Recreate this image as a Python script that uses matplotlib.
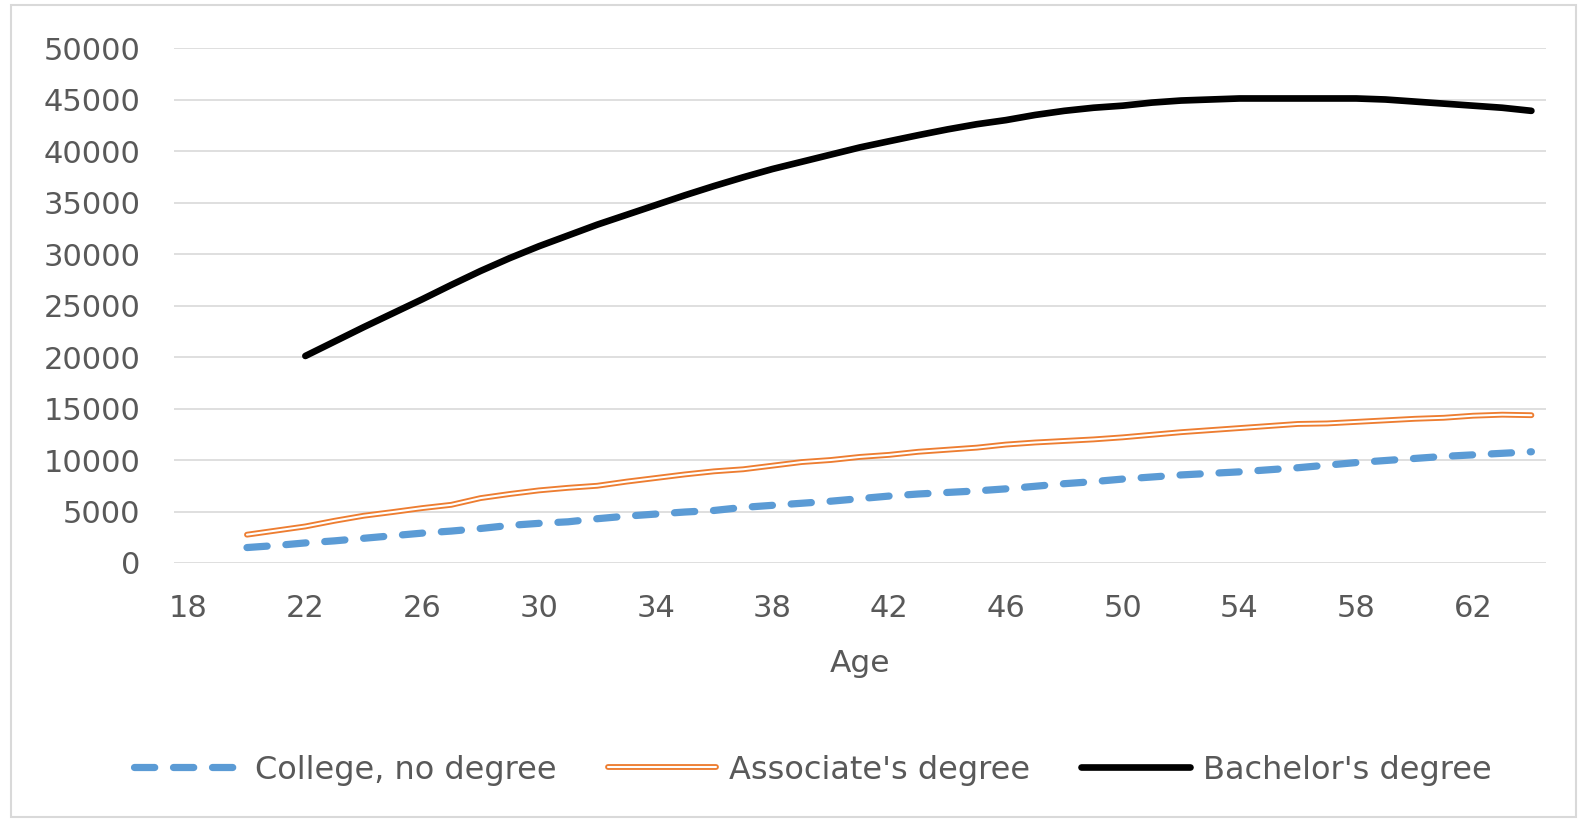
import matplotlib
matplotlib.use('Agg')
import matplotlib.pyplot as plt
import matplotlib.patheffects as pe
from matplotlib.patches import Rectangle

# ages on the category axis
ages = list(range(18, 65))

# one value per age
college_ages = list(range(20, 65))
college = [1500, 1700, 1950, 2150, 2400, 2650, 2900, 3100, 3350, 3650,
           3850, 4000, 4300, 4550, 4750, 4950, 5100, 5400, 5600, 5800,
           6000, 6250, 6500, 6700, 6850, 7000, 7200, 7450, 7700, 7900,
           8150, 8350, 8550, 8700, 8850, 9050, 9250, 9500, 9750, 9950,
           10150, 10350, 10500, 10650, 10800]

assoc_ages = list(range(20, 65))
associate = [2750, 3150, 3550, 4100, 4590, 4950, 5330, 5650, 6300, 6700,
             7050, 7300, 7500, 7900, 8250, 8600, 8900, 9100, 9450, 9800,
             10000, 10300, 10500, 10800, 11000, 11200, 11500, 11700, 11850, 12000,
             12200, 12450, 12700, 12900, 13100, 13300, 13500, 13550, 13700, 13850,
             14000, 14100, 14300, 14400, 14350]

bach_ages = list(range(22, 65))
bachelor = [20100, 21500, 22900, 24250, 25600, 27000, 28350, 29600, 30750, 31800,
            32850, 33800, 34750, 35700, 36600, 37450, 38250, 38950, 39650, 40350,
            40950, 41540, 42100, 42600, 43000, 43500, 43900, 44200, 44400, 44700,
            44900, 45000, 45100, 45100, 45100, 45100, 45100, 45000, 44800, 44600,
            44400, 44200, 43900]

series_names = ['College, no degree', "Associate's degree", "Bachelor's degree"]
x_ticks = ages[::4]
y_ticks = list(range(0, 50001, 5000))

text_col = '#595959'
grid_col = '#d9d9d9'

fig = plt.figure(figsize=(15.87, 8.22), dpi=100)
ax = fig.add_axes([174 / 1587, 1 - 563 / 822, (1546 - 174) / 1587, (563 - 48) / 822])

# outer chart border
fig.patches.append(Rectangle((11 / 1587, 5 / 822), 1565 / 1587, 812 / 822,
                             transform=fig.transFigure, fill=False,
                             edgecolor=grid_col, lw=1.5))

ax.plot(college_ages, college, color='#5b9bd5', lw=5.2, linestyle=(0, (2.8, 2.6)),
        dash_capstyle='round', solid_capstyle='round', label=series_names[0], zorder=3)
ax.plot(assoc_ages, associate, color='white', lw=1.5, solid_capstyle='round',
        label=series_names[1], zorder=3,
        path_effects=[pe.Stroke(linewidth=4.2, foreground='#ed7d31'), pe.Normal()])
ax.plot(bach_ages, bachelor, color='black', lw=4.8, solid_capstyle='round',
        label=series_names[2], zorder=3)

ax.set_xlim(17.5, 64.5)
ax.set_ylim(0, 50000)
ax.set_xticks(x_ticks)
ax.set_yticks(y_ticks)
ax.grid(axis='y', color=grid_col, lw=1.2)
ax.set_axisbelow(True)
for s in ax.spines.values():
    s.set_visible(False)
ax.tick_params(length=0, labelsize=22, colors=text_col)
ax.tick_params(axis='y', pad=24)
ax.tick_params(axis='x', pad=22)
ax.set_xlabel('Age', fontsize=22.5, color=text_col, labelpad=19)

fig.legend(loc='center', bbox_to_anchor=(0.512, 1 - 770 / 822), ncol=3, frameon=False,
           fontsize=23, handlelength=3.4, handletextpad=0.4, columnspacing=1.6,
           labelcolor=text_col)

fig.savefig('out.png', dpi=100)
